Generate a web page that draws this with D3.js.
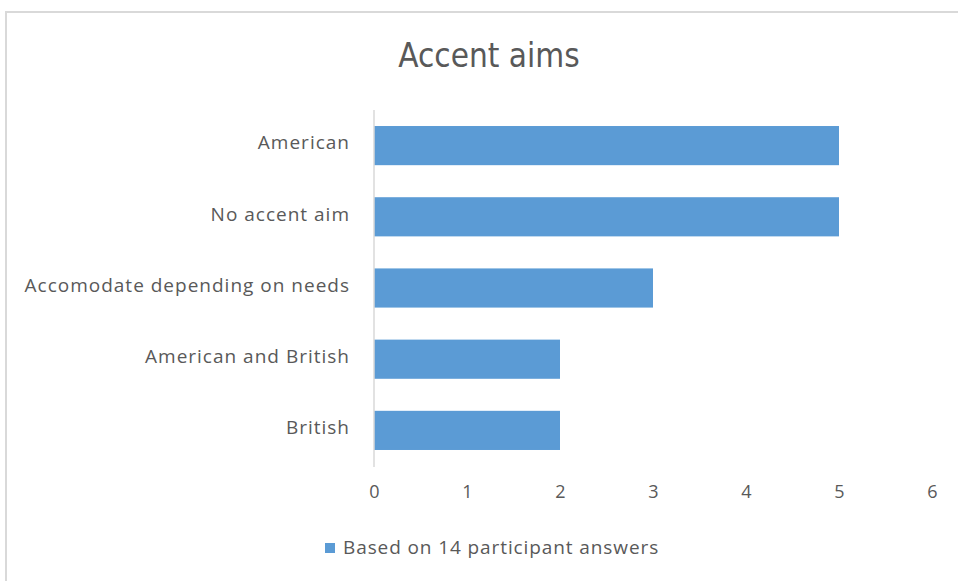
<!DOCTYPE html>
<meta charset="utf-8">
<style>
body { margin: 0; background: #fff; }
text { fill: #595959; }
.axis path { display: none; }
.axis line { display: none; }
</style>
<svg width="958" height="581"></svg>
<script src="https://cdn.jsdelivr.net/npm/d3@7"></script>
<script>

var categories = ["American", "No accent aim", "Accomodate depending on needs", "American and British", "British"];
var counts = [5, 5, 3, 2, 2];
var xTicks = [0, 1, 2, 3, 4, 5, 6];
var title = "Accent aims";
var seriesName = "Based on 14 participant answers";

var svg = d3.select("svg"),
    margin = {top: 110, right: 26, bottom: 115, left: 374},
    width = +svg.attr("width") - margin.left - margin.right,
    height = +svg.attr("height") - margin.top - margin.bottom;

// chart frame
svg.append("rect")
    .attr("x", 6).attr("y", 12)
    .attr("width", 970).attr("height", 600)
    .attr("fill", "none")
    .attr("stroke", "#d9d9d9")
    .attr("stroke-width", 2);

var x = d3.scaleLinear().domain([0, 6]).range([0, 558]),
    y = d3.scaleBand().domain(categories).range([0, 356]).paddingInner(0.45).paddingOuter(0.225);

var g = svg.append("g")
    .attr("transform", "translate(" + margin.left + "," + margin.top + ")");

svg.append("text")
    .attr("x", 489)
    .attr("y", 67)
    .attr("text-anchor", "middle")
    .style("font-family", "'DejaVu Sans Condensed', 'Liberation Sans Narrow', sans-serif")
    .style("font-size", "33px")
    .text(title);

g.selectAll(".bar")
  .data(categories)
  .enter().append("rect")
    .attr("class", "bar")
    .attr("x", x(0))
    .attr("y", function(d) { return y(d); })
    .attr("width", function(d, i) { return x(counts[i]) - x(0); })
    .attr("height", y.bandwidth())
    .attr("fill", "#5b9bd5");

// category axis
var ya = g.append("g")
    .attr("class", "axis axis--y")
    .call(d3.axisLeft(y).tickSize(0).tickPadding(24));
ya.selectAll("text")
    .style("font-family", "'Open Sans', sans-serif")
    .style("font-size", "19px")
    .style("letter-spacing", "1px")
    .attr("dy", "0.2em");

g.append("line")
    .attr("x1", 0).attr("x2", 0)
    .attr("y1", 0).attr("y2", 357)
    .attr("stroke", "#d9d9d9")
    .attr("stroke-width", 1.5);

// value axis
var xa = g.append("g")
    .attr("class", "axis axis--x")
    .attr("transform", "translate(0,372)")
    .call(d3.axisBottom(x).tickValues(xTicks).tickFormat(d3.format("d")).tickSize(0));
xa.selectAll("text")
    .style("font-family", "'Open Sans', sans-serif")
    .style("font-size", "18px");

// legend
var lg = svg.append("g").attr("transform", "translate(325,543)");
lg.append("rect")
    .attr("width", 10).attr("height", 10)
    .attr("fill", "#5b9bd5");
lg.append("text")
    .attr("x", 18)
    .attr("y", 11)
    .style("font-family", "'Open Sans', sans-serif")
    .style("font-size", "19px")
    .style("letter-spacing", "0.9px")
    .text(seriesName);

</script>
